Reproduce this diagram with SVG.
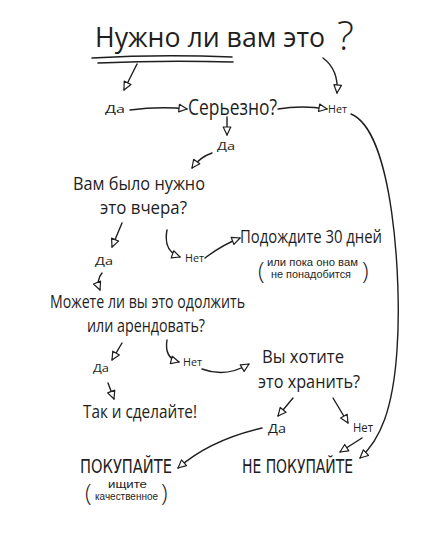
<svg xmlns="http://www.w3.org/2000/svg" width="448" height="535" viewBox="0 0 448 535">
<style>
text{font-family:"Open Sans","Noto Sans","DejaVu Sans",sans-serif;fill:#1e1e1e}
.big{font-size:19px}
.sm{font-size:11px}
.xs{font-size:10px;font-family:"Liberation Sans","Arial",sans-serif}
.par{font-size:24px;font-weight:300}
.caps{font-size:20px;font-family:"DejaVu Sans Condensed","Liberation Sans Narrow","Open Sans",sans-serif}
.c path{fill:none;stroke:#1e1e1e;stroke-width:1.4;stroke-linecap:round}
.c path.a{marker-end:url(#tri)}
</style>
<defs>
<marker id="tri" viewBox="0 0 10 10" refX="9" refY="5" markerWidth="10" markerHeight="10" markerUnits="userSpaceOnUse" orient="auto">
<path d="M1,1.2 L9,5 L1,8.8 Z" fill="#fff" stroke="#1e1e1e" stroke-width="1.2" stroke-linejoin="round"/>
</marker>
</defs>
<rect width="448" height="535" fill="#fff"/>
<g id="title">
<text x="95" y="47" style="font-size:28px" textLength="230" lengthAdjust="spacingAndGlyphs">Нужно ли вам это</text>
<text x="337" y="50" style="font-size:40px;font-weight:300">?</text>
<path d="M92,58 Q160,54 232,57 M98,63 Q165,60 233,62" fill="none" stroke="#1e1e1e" stroke-width="1.6" stroke-linecap="round"/>
</g>
<g id="da1"><text x="105" y="113" class="sm" textLength="20" lengthAdjust="spacingAndGlyphs">Да</text></g>
<g id="seriously"><text x="188" y="115" style="font-size:22px" textLength="89" lengthAdjust="spacingAndGlyphs">Серьезно?</text></g>
<g id="net1"><text x="328" y="113" class="sm" textLength="19" lengthAdjust="spacingAndGlyphs">Нет</text></g>
<g id="da2"><text x="217" y="150" class="sm" textLength="18" lengthAdjust="spacingAndGlyphs">Да</text></g>
<g id="yesterday">
<text x="73" y="190" class="big" textLength="132" lengthAdjust="spacingAndGlyphs">Вам было нужно</text>
<text x="100" y="214" class="big" textLength="87" lengthAdjust="spacingAndGlyphs">это вчера?</text>
</g>
<g id="da3"><text x="95" y="265" class="sm" textLength="18" lengthAdjust="spacingAndGlyphs">Да</text></g>
<g id="net2"><text x="185" y="262" class="sm" textLength="19" lengthAdjust="spacingAndGlyphs">Нет</text></g>
<g id="wait">
<text x="240" y="243" class="big" textLength="142" lengthAdjust="spacingAndGlyphs">Подождите 30 дней</text>
<text x="258" y="279" class="par">(</text>
<text x="267" y="266" class="xs" textLength="91" lengthAdjust="spacingAndGlyphs">или пока оно вам</text>
<text x="271" y="277.5" class="xs" textLength="80" lengthAdjust="spacingAndGlyphs">не понадобится</text>
<text x="362" y="279" class="par">)</text>
</g>
<g id="borrow">
<text x="50" y="308" class="big" textLength="195" lengthAdjust="spacingAndGlyphs">Можете ли вы это одолжить</text>
<text x="87" y="332" class="big" textLength="118" lengthAdjust="spacingAndGlyphs">или арендовать?</text>
</g>
<g id="da4"><text x="93" y="372" class="sm" textLength="16" lengthAdjust="spacingAndGlyphs">Да</text></g>
<g id="net3"><text x="183" y="366" class="sm" textLength="19" lengthAdjust="spacingAndGlyphs">Нет</text></g>
<g id="keep">
<text x="262" y="363" class="big" textLength="82" lengthAdjust="spacingAndGlyphs">Вы хотите</text>
<text x="258" y="388" class="big" textLength="102" lengthAdjust="spacingAndGlyphs">это хранить?</text>
</g>
<g id="doit"><text x="83" y="418" class="big" textLength="114" lengthAdjust="spacingAndGlyphs">Так и сделайте!</text></g>
<g id="da5"><text x="268" y="433" style="font-size:13px" textLength="18" lengthAdjust="spacingAndGlyphs">Да</text></g>
<g id="net4"><text x="353" y="432" style="font-size:12px" textLength="20" lengthAdjust="spacingAndGlyphs">Нет</text></g>
<g id="buy">
<text x="80" y="473" class="caps" textLength="92" lengthAdjust="spacingAndGlyphs">ПОКУПАЙТЕ</text>
<text x="85" y="501" class="par">(</text>
<text x="108" y="487.5" class="xs" textLength="39" lengthAdjust="spacingAndGlyphs">ищите</text>
<text x="95" y="500" class="xs" textLength="63" lengthAdjust="spacingAndGlyphs">качественное</text>
<text x="161" y="501" class="par">)</text>
</g>
<g id="dontbuy"><text x="242" y="473" class="caps" textLength="111" lengthAdjust="spacingAndGlyphs">НЕ ПОКУПАЙТЕ</text></g>
<g id="connectors" class="c">
<path class="a" d="M137,64 L124,90"/>
<path class="a" d="M130,110 Q160,106 187,109"/>
<path class="a" d="M278,109 Q302,105 327,109"/>
<path class="a" d="M323,58 Q339,70 337,93"/>
<path class="a" d="M351,114 C393,131 402,280 397,350 C393,410 380,440 360,458"/>
<path class="a" d="M227,117 L227,135"/>
<path class="a" d="M212,153 Q200,157 192,168"/>
<path class="a" d="M122,223 L112,247"/>
<path class="a" d="M167,230 Q163,251 180,257"/>
<path class="a" d="M205,258 Q222,245 240,238"/>
<path class="a" d="M102,273 Q96,280 100,290"/>
<path class="a" d="M122,343 L112,360"/>
<path class="a" d="M167,340 Q164,358 179,362"/>
<path class="a" d="M202,369 Q226,378 249,364"/>
<path class="a" d="M108,383 L114,399"/>
<path class="a" d="M293,398 L278,416"/>
<path class="a" d="M333,398 L348,423"/>
<path class="a" d="M362,438 L340,452"/>
<path class="a" d="M262,428 Q210,440 178,468"/>
</g>
</svg>
